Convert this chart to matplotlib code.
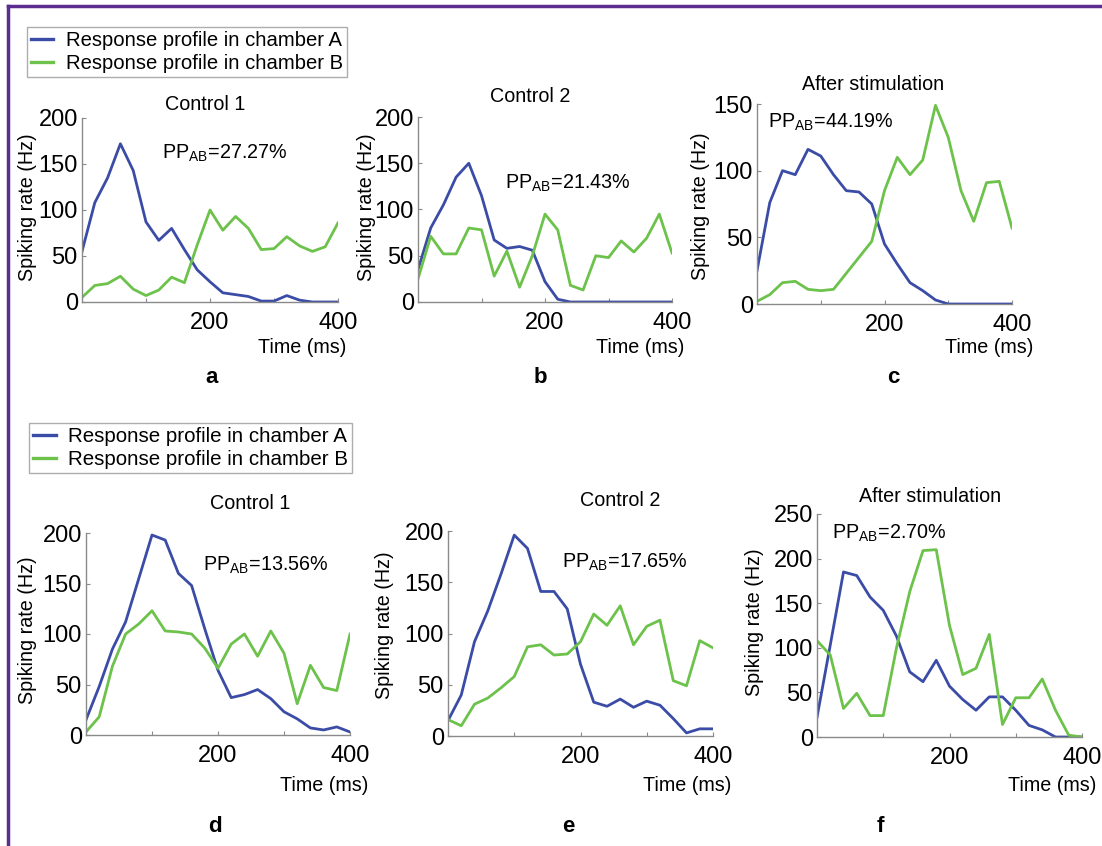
import numpy as np
import matplotlib
matplotlib.use("Agg")
import matplotlib.pyplot as plt
from matplotlib.lines import Line2D

plt.rcParams['font.family'] = ['Liberation Sans', 'DejaVu Sans']
plt.rcParams['mathtext.default'] = 'regular'

W, H = 1102, 846
BLUE = '#3b4ca6'
GREEN = '#6cc24a'

# time bins (ms)
time_ms = np.arange(0, 401, 20)

# panel a
a_blue = [55, 108, 135, 172, 143, 87, 67, 80, 57, 35, 22, 10, 8, 6, 1, 1, 7, 2, 0, 0, 0]
a_green = [5, 18, 20, 28, 14, 7, 13, 27, 21, 62, 100, 78, 93, 80, 57, 58, 71, 61, 55, 60, 86]
# panel b
b_blue = [35, 80, 105, 135, 150, 115, 67, 58, 60, 56, 22, 3, 0, 0, 0, 0, 0, 0, 0, 0, 0]
b_green = [25, 71, 52, 52, 80, 78, 28, 55, 16, 50, 95, 78, 18, 13, 50, 48, 66, 54, 69, 95, 53]
# panel c
c_blue = [25, 76, 100, 97, 116, 111, 97, 85, 84, 75, 45, 30, 16, 10, 3, 0, 0, 0, 0, 0, 0]
c_green = [2, 7, 16, 17, 11, 10, 11, 23, 35, 47, 85, 110, 97, 108, 149, 125, 85, 62, 91, 92, 57]
# panel d
d_blue = [15, 48, 85, 112, 155, 198, 193, 160, 148, 105, 64, 37, 40, 45, 36, 23, 16, 7, 5, 8, 3]
d_green = [3, 18, 68, 100, 110, 123, 103, 102, 100, 86, 66, 90, 100, 78, 103, 81, 31, 69, 47, 44, 100]
# panel e
e_blue = [15, 40, 92, 122, 158, 196, 183, 141, 141, 124, 70, 33, 29, 36, 28, 34, 30, 17, 3, 7, 7]
e_green = [16, 10, 31, 37, 47, 58, 87, 89, 79, 80, 92, 119, 108, 127, 89, 107, 113, 54, 49, 93, 86]
# panel f
f_blue = [22, 103, 185, 181, 157, 142, 113, 73, 62, 86, 57, 42, 30, 45, 45, 30, 13, 8, 0, 0, 0]
f_green = [108, 92, 32, 49, 24, 24, 100, 163, 209, 210, 125, 70, 77, 115, 14, 44, 44, 65, 30, 2, 0]

titles = ['Control 1', 'Control 2', 'After stimulation',
          'Control 1', 'Control 2', 'After stimulation']
pp_values = ['27.27', '21.43', '44.19', '13.56', '17.65', '2.70']
letters = ['a', 'b', 'c', 'd', 'e', 'f']
y_max = [200, 200, 150, 200, 200, 250]
blues = [a_blue, b_blue, c_blue, d_blue, e_blue, f_blue]
greens = [a_green, b_green, c_green, d_green, e_green, f_green]

# layout in pixels: axes box (x0, ytop, x1, ybottom), title xy, pp xy, letter xy
boxes = [(82, 118, 338, 302), (418, 117, 672, 302), (757, 104, 1012, 304),
         (86, 533, 350, 735), (448, 531, 713, 736), (817, 514, 1082, 737)]
title_xy = [(205, 104), (530, 97), (873, 84), (250, 503), (620, 500), (930, 496)]
pp_xy = [(162, 153), (505, 183), (768, 122), (203, 565), (562, 562), (832, 533)]
letter_xy = [(212, 377), (540, 377), (893, 377), (215, 826), (568, 826), (880, 826)]
time_xy = [(346, 347), (684, 347), (1033, 347), (368, 785), (731, 785), (1096, 785)]
ylab_xy = [(28, 207), (366, 207), (700, 206), (28, 630), (385, 625), (755, 622)]


def fx(x):
    return x / W


def fy(y):
    return 1 - y / H


fig = plt.figure(figsize=(W / 100, H / 100), dpi=100)

for i in range(6):
    x0, yt, x1, yb = boxes[i]
    ax = fig.add_axes([fx(x0), fy(yb), fx(x1 - x0), (yb - yt) / H])
    ax.plot(time_ms, blues[i], color=BLUE, lw=2.0)
    ax.plot(time_ms, greens[i], color=GREEN, lw=2.0)
    ax.set_xlim(0, 400)
    ax.set_ylim(0, y_max[i])
    ax.set_xticks([100, 200, 300, 400])
    ax.set_xticklabels(['', '200', '', '400'])
    ax.set_yticks(np.arange(0, y_max[i] + 1, 50))
    for s in ['top', 'right']:
        ax.spines[s].set_visible(False)
    for s in ['left', 'bottom']:
        ax.spines[s].set_color('#8a8a8a')
        ax.spines[s].set_linewidth(1.0)
    ax.tick_params(direction='in', length=3, color='#8a8a8a', labelsize=17,
                   pad=3)
    ax.tick_params(axis='x', pad=7)
    ax.patch.set_alpha(0)

    fig.text(fx(ylab_xy[i][0]), fy(ylab_xy[i][1]), 'Spiking rate (Hz)', rotation=90,
             ha='center', va='center', fontsize=14.2)
    fig.text(fx(title_xy[i][0]), fy(title_xy[i][1]), titles[i],
             ha='center', va='center', fontsize=14.2)
    fig.text(fx(pp_xy[i][0]), fy(pp_xy[i][1]), 'PP$_{AB}$=' + pp_values[i] + '%',
             ha='left', va='center', fontsize=14.2)
    fig.text(fx(letter_xy[i][0]), fy(letter_xy[i][1]), letters[i],
             ha='center', va='center', fontsize=16, fontweight='bold')
    fig.text(fx(time_xy[i][0]), fy(time_xy[i][1]), 'Time (ms)',
             ha='right', va='center', fontsize=14.2)

handles = [Line2D([], [], color=BLUE, lw=2.4), Line2D([], [], color=GREEN, lw=2.4)]
labels = ['Response profile in chamber A', 'Response profile in chamber B']
for (lx, ly, fs) in [(27, 27, 14.6), (29, 423, 14.8)]:
    leg = fig.legend(handles, labels, loc='upper left',
                     bbox_to_anchor=(fx(lx), fy(ly)), fontsize=fs,
                     frameon=True, fancybox=False, handlelength=1.1,
                     handletextpad=0.6, borderpad=0.2, labelspacing=0.2,
                     borderaxespad=0)
    leg.get_frame().set_edgecolor('#999999')
    leg.get_frame().set_linewidth(1.0)

# purple frame on top and left
fig.add_artist(Line2D([fx(8), 1], [fy(6), fy(6)], color='#5b2d8e', lw=2.5))
fig.add_artist(Line2D([fx(8), fx(8)], [fy(6), 0], color='#5b2d8e', lw=2.5))

fig.savefig('out.png', dpi=100)
